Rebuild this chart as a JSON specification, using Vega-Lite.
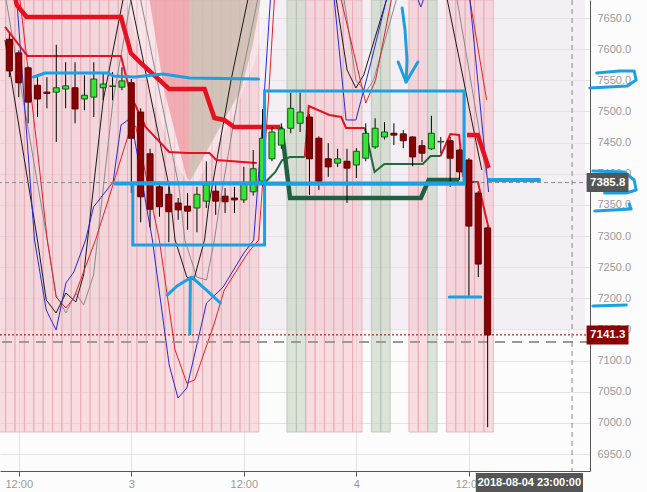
{
"$schema":"https://vega.github.io/schema/vega-lite/v6.json",
"width":590,"height":471,
"autosize":{"type":"none"},
"padding":{"left":0,"top":0,"right":57,"bottom":21},
"background":"#fcfcfc",
"config":{"view":{"stroke":null},
 "axis":{"title":null,"domainColor":"#555","labelColor":"#999","labelFont":"Liberation Sans","labelFontSize":11,"gridColor":"#e3e3e3","gridWidth":1},
 "axisX":{"tickColor":"#555","tickSize":5,"labelPadding":2,"labelFlush":false,"labelOverlap":false},
 "axisY":{"ticks":false,"labelPadding":7,"labelOverlap":false}},
"datasets":{
"candles":[
{"h":11,"o":7616,"hi":7625,"lo":7555,"c":7565},{"h":12,"o":7594,"hi":7598,"lo":7523,"c":7546},{"h":13,"o":7570,"hi":7572,"lo":7481,"c":7515},{"h":14,"o":7542,"hi":7555,"lo":7491,"c":7520},{"h":15,"o":7531,"hi":7555,"lo":7505,"c":7529},{"h":16,"o":7531,"hi":7607,"lo":7451,"c":7538},{"h":17,"o":7536,"hi":7579,"lo":7505,"c":7541},{"h":18,"o":7538,"hi":7579,"lo":7481,"c":7504},{"h":19,"o":7520,"hi":7558,"lo":7502,"c":7526},{"h":20,"o":7523,"hi":7579,"lo":7491,"c":7552},{"h":21,"o":7538,"hi":7562,"lo":7518,"c":7544},{"h":22,"o":7540,"hi":7563,"lo":7518,"c":7541},{"h":23,"o":7539,"hi":7571,"lo":7534,"c":7549},{"h":24,"o":7546,"hi":7552,"lo":7369,"c":7457},{"h":25,"o":7499,"hi":7505,"lo":7322,"c":7363},{"h":26,"o":7432,"hi":7440,"lo":7314,"c":7343},{"h":27,"o":7379,"hi":7387,"lo":7331,"c":7347},{"h":28,"o":7367,"hi":7379,"lo":7290,"c":7339},{"h":29,"o":7353,"hi":7361,"lo":7326,"c":7342},{"h":30,"o":7348,"hi":7369,"lo":7310,"c":7340},{"h":31,"o":7345,"hi":7379,"lo":7306,"c":7367},{"h":32,"o":7356,"hi":7420,"lo":7345,"c":7382},{"h":33,"o":7372,"hi":7382,"lo":7334,"c":7356},{"h":34,"o":7364,"hi":7377,"lo":7337,"c":7355},{"h":35,"o":7361,"hi":7379,"lo":7337,"c":7358},{"h":36,"o":7358,"hi":7411,"lo":7353,"c":7384},{"h":37,"o":7371,"hi":7438,"lo":7365,"c":7408},{"h":38,"o":7388,"hi":7504,"lo":7380,"c":7457},{"h":39,"o":7424,"hi":7475,"lo":7420,"c":7467},{"h":40,"o":7446,"hi":7481,"lo":7440,"c":7472},{"h":41,"o":7473,"hi":7530,"lo":7465,"c":7505},{"h":42,"o":7481,"hi":7530,"lo":7467,"c":7499},{"h":43,"o":7491,"hi":7496,"lo":7366,"c":7424},{"h":44,"o":7457,"hi":7460,"lo":7374,"c":7388},{"h":45,"o":7424,"hi":7449,"lo":7395,"c":7411},{"h":46,"o":7417,"hi":7440,"lo":7411,"c":7424},{"h":47,"o":7420,"hi":7440,"lo":7353,"c":7409},{"h":48,"o":7414,"hi":7441,"lo":7393,"c":7436},{"h":49,"o":7425,"hi":7481,"lo":7420,"c":7465},{"h":50,"o":7443,"hi":7489,"lo":7440,"c":7473},{"h":51,"o":7459,"hi":7483,"lo":7455,"c":7467},{"h":52,"o":7465,"hi":7481,"lo":7446,"c":7462},{"h":53,"o":7464,"hi":7470,"lo":7441,"c":7453},{"h":54,"o":7459,"hi":7460,"lo":7412,"c":7427},{"h":55,"o":7445,"hi":7454,"lo":7419,"c":7433},{"h":56,"o":7440,"hi":7493,"lo":7438,"c":7465},{"h":57,"o":7451,"hi":7459,"lo":7433,"c":7452},{"h":58,"o":7453,"hi":7459,"lo":7379,"c":7425},{"h":59,"o":7438,"hi":7440,"lo":7390,"c":7403},{"h":60,"o":7422,"hi":7425,"lo":7204,"c":7316},{"h":61,"o":7369,"hi":7372,"lo":7234,"c":7255},{"h":62,"o":7313,"hi":7315,"lo":6993,"c":7141.3}],
"bands":[
{"a":9.6,"b":10.6,"t":"p"},{"a":10.6,"b":11.6,"t":"p"},{"a":11.6,"b":12.6,"t":"p"},{"a":12.6,"b":13.6,"t":"p"},{"a":13.6,"b":14.6,"t":"p"},{"a":14.6,"b":15.6,"t":"p"},{"a":15.6,"b":16.6,"t":"p"},{"a":16.6,"b":17.6,"t":"p"},{"a":17.6,"b":18.6,"t":"p"},{"a":18.6,"b":19.6,"t":"p"},{"a":19.6,"b":20.6,"t":"p"},{"a":20.6,"b":21.6,"t":"p"},{"a":21.6,"b":22.6,"t":"p"},{"a":22.6,"b":23.6,"t":"p"},{"a":23.6,"b":24.6,"t":"p"},{"a":24.6,"b":25.6,"t":"p"},{"a":25.6,"b":26.6,"t":"p"},{"a":26.6,"b":27.6,"t":"p"},{"a":27.6,"b":28.6,"t":"p"},{"a":28.6,"b":29.6,"t":"p"},{"a":29.6,"b":30.6,"t":"p"},{"a":30.6,"b":31.6,"t":"p"},{"a":31.6,"b":32.6,"t":"p"},{"a":32.6,"b":33.6,"t":"p"},{"a":33.6,"b":34.6,"t":"p"},{"a":34.6,"b":35.6,"t":"p"},{"a":35.6,"b":36.6,"t":"p"},{"a":36.6,"b":37.6,"t":"p"},
{"a":40.6,"b":41.6,"t":"g"},{"a":41.6,"b":42.6,"t":"g"},
{"a":42.6,"b":43.6,"t":"p"},{"a":43.6,"b":44.6,"t":"p"},{"a":44.6,"b":45.6,"t":"p"},{"a":45.6,"b":46.6,"t":"p"},{"a":46.6,"b":47.6,"t":"p"},{"a":47.6,"b":48.6,"t":"p"},
{"a":49.6,"b":50.6,"t":"g"},{"a":50.6,"b":51.6,"t":"g"},
{"a":53.6,"b":54.6,"t":"p"},{"a":54.6,"b":55.6,"t":"p"},
{"a":55.6,"b":56.6,"t":"g"},
{"a":57.6,"b":58.6,"t":"p"},{"a":58.6,"b":59.6,"t":"p"},{"a":59.6,"b":60.6,"t":"p"},{"a":60.6,"b":61.6,"t":"p"},{"a":61.6,"b":62.6,"t":"p"}],
"areas":[
{"s":"outer","h":23.43,"v":7678.9},{"s":"outer","h":26.25,"v":7518.4},{"s":"outer","h":28.88,"v":7414.0},{"s":"outer","h":30.03,"v":7385.1},{"s":"outer","h":31.08,"v":7386.7},{"s":"outer","h":34.64,"v":7486.3},{"s":"outer","h":37.26,"v":7582.6},{"s":"outer","h":38.83,"v":7678.9},
{"s":"salmon","h":25.94,"v":7678.9},{"s":"salmon","h":27.51,"v":7534.4},{"s":"salmon","h":29.92,"v":7393.1},{"s":"salmon","h":30.24,"v":7388.3},
{"s":"brown","h":30.24,"v":7388.3},{"s":"brown","h":30.45,"v":7393.1},{"s":"brown","h":35.69,"v":7534.4},{"s":"brown","h":36.95,"v":7606.7},{"s":"brown","h":37.79,"v":7678.9}],
"L":[
{"s":"eg","k":0,"h":10.2,"v":7720},{"s":"eg","k":1,"h":11.37,"v":7614.7},{"s":"eg","k":2,"h":15.04,"v":7293.6},{"s":"eg","k":3,"h":15.98,"v":7205.3},{"s":"eg","k":4,"h":17.03,"v":7176.4},{"s":"eg","k":5,"h":18.08,"v":7208.5},{"s":"eg","k":6,"h":18.92,"v":7189.3},{"s":"eg","k":7,"h":19.97,"v":7237.4},{"s":"eg","k":8,"h":22.06,"v":7518.4},{"s":"eg","k":9,"h":23.95,"v":7678.9},{"s":"eg","k":10,"h":24.47,"v":7743.1},{"s":"eg","k":11,"h":25.0,"v":7678.9},{"s":"eg","k":12,"h":29.09,"v":7378.7},{"s":"eg","k":13,"h":29.71,"v":7293.6},{"s":"eg","k":14,"h":30.97,"v":7234.2},{"s":"eg","k":15,"h":32.02,"v":7229.4},{"s":"eg","k":16,"h":32.86,"v":7293.6},{"s":"eg","k":17,"h":33.38,"v":7346.6},{"s":"eg","k":18,"h":35.69,"v":7550.5},{"s":"eg","k":19,"h":37.47,"v":7678.9},{"s":"eg","k":20,"h":41.98,"v":7999.7},{"s":"eg","k":21,"h":46.7,"v":7678.9},{"s":"eg","k":22,"h":47.95,"v":7550.5},{"s":"eg","k":23,"h":49.0,"v":7531.2},{"s":"eg","k":24,"h":49.84,"v":7550.5},{"s":"eg","k":25,"h":52.25,"v":7678.9},{"s":"eg","k":26,"h":55.6,"v":7999.7},{"s":"eg","k":27,"h":58.75,"v":7678.9},{"s":"eg","k":28,"h":61.89,"v":7398.0},
{"s":"ek","k":1,"h":10.53,"v":7614.7},{"s":"ek","k":2,"h":13.99,"v":7293.6},{"s":"ek","k":3,"h":14.93,"v":7197.3},{"s":"ek","k":4,"h":15.98,"v":7176.4},{"s":"ek","k":5,"h":17.03,"v":7208.5},{"s":"ek","k":6,"h":18.08,"v":7194.1},{"s":"ek","k":7,"h":18.92,"v":7237.4},{"s":"ek","k":8,"h":21.01,"v":7518.4},{"s":"ek","k":9,"h":23.11,"v":7678.9},{"s":"ek","k":10,"h":23.53,"v":7743.1},{"s":"ek","k":11,"h":23.95,"v":7678.9},{"s":"ek","k":12,"h":28.04,"v":7378.7},{"s":"ek","k":13,"h":28.67,"v":7293.6},{"s":"ek","k":14,"h":29.92,"v":7234.2},{"s":"ek","k":15,"h":30.66,"v":7229.4},{"s":"ek","k":16,"h":31.81,"v":7293.6},{"s":"ek","k":17,"h":32.23,"v":7346.6},{"s":"ek","k":18,"h":34.64,"v":7550.5},{"s":"ek","k":19,"h":36.42,"v":7678.9},{"s":"ek","k":20,"h":40.93,"v":7999.7},{"s":"ek","k":21,"h":45.86,"v":7678.9},{"s":"ek","k":22,"h":47.01,"v":7566.5},{"s":"ek","k":23,"h":47.95,"v":7537.6},{"s":"ek","k":24,"h":48.79,"v":7558.5},{"s":"ek","k":25,"h":51.2,"v":7678.9},{"s":"ek","k":26,"h":54.56,"v":7999.7},{"s":"ek","k":27,"h":57.7,"v":7678.9},{"s":"ek","k":28,"h":61.37,"v":7406.0},
{"s":"er","k":1,"h":11.5,"v":7760},{"s":"er","k":2,"h":13.99,"v":7438.1},{"s":"er","k":3,"h":15.04,"v":7293.6},{"s":"er","k":4,"h":15.98,"v":7202.1},{"s":"er","k":5,"h":17.03,"v":7184.4},{"s":"er","k":6,"h":17.87,"v":7200.5},{"s":"er","k":7,"h":20.18,"v":7293.6},{"s":"er","k":8,"h":21.54,"v":7357.8},{"s":"er","k":9,"h":23.84,"v":7470.2},{"s":"er","k":10,"h":24.47,"v":7476.6},{"s":"er","k":11,"h":26.99,"v":7293.6},{"s":"er","k":12,"h":28.67,"v":7117.0},{"s":"er","k":13,"h":29.92,"v":7064.0},{"s":"er","k":14,"h":30.76,"v":7068.8},{"s":"er","k":15,"h":32.86,"v":7160.4},{"s":"er","k":16,"h":33.91,"v":7213.3},{"s":"er","k":17,"h":36.42,"v":7272.7},{"s":"er","k":18,"h":37.58,"v":7293.6},{"s":"er","k":19,"h":38.62,"v":7518.4},{"s":"er","k":20,"h":39.25,"v":7678.9},{"s":"er","k":21,"h":42.5,"v":7919.7},{"s":"er","k":22,"h":46.38,"v":7678.9},{"s":"er","k":23,"h":49.0,"v":7513.5},{"s":"er","k":24,"h":50.05,"v":7550.5},{"s":"er","k":25,"h":51.73,"v":7678.9},{"s":"er","k":26,"h":55.6,"v":7919.7},{"s":"er","k":27,"h":60.11,"v":7678.9},{"s":"er","k":28,"h":61.89,"v":7518.4},
{"s":"eb","k":1,"h":11.06,"v":7775.2},{"s":"eb","k":2,"h":11.79,"v":7678.9},{"s":"eb","k":3,"h":13.68,"v":7293.6},{"s":"eb","k":4,"h":14.93,"v":7181.2},{"s":"eb","k":5,"h":15.98,"v":7149.1},{"s":"eb","k":6,"h":17.03,"v":7224.6},{"s":"eb","k":7,"h":17.87,"v":7242.2},{"s":"eb","k":8,"h":19.13,"v":7293.6},{"s":"eb","k":9,"h":19.97,"v":7346.6},{"s":"eb","k":10,"h":22.06,"v":7386.7},{"s":"eb","k":11,"h":22.9,"v":7478.2},{"s":"eb","k":12,"h":23.95,"v":7489.5},{"s":"eb","k":13,"h":26.25,"v":7293.6},{"s":"eb","k":14,"h":28.04,"v":7092.9},{"s":"eb","k":15,"h":28.98,"v":7039.9},{"s":"eb","k":16,"h":29.92,"v":7056.0},{"s":"eb","k":17,"h":32.02,"v":7192.4},{"s":"eb","k":18,"h":33.8,"v":7218.2},{"s":"eb","k":19,"h":36.0,"v":7272.7},{"s":"eb","k":20,"h":37.05,"v":7293.6},{"s":"eb","k":21,"h":38.0,"v":7486.3},{"s":"eb","k":22,"h":38.83,"v":7678.9},{"s":"eb","k":23,"h":41.98,"v":7919.7},{"s":"eb","k":24,"h":45.65,"v":7678.9},{"s":"eb","k":25,"h":46.9,"v":7486.3},{"s":"eb","k":26,"h":47.95,"v":7486.3},{"s":"eb","k":27,"h":49.54,"v":7577.8},{"s":"eb","k":28,"h":51.2,"v":7678.9},{"s":"eb","k":29,"h":52.98,"v":7743.1},{"s":"eb","k":30,"h":54.87,"v":7667.7},{"s":"eb","k":31,"h":56.65,"v":7743.1},{"s":"eb","k":32,"h":60.11,"v":7678.9},{"s":"eb","k":33,"h":62.1,"v":7370.7},
{"s":"tr1","k":1,"h":10.53,"v":7635.6},{"s":"tr1","k":2,"h":12.94,"v":7589.0},{"s":"tr1","k":3,"h":22.9,"v":7589.0},{"s":"tr1","k":4,"h":23.53,"v":7550.5},{"s":"tr1","k":5,"h":24.16,"v":7518.4},{"s":"tr1","k":6,"h":25.52,"v":7475.0},{"s":"tr1","k":7,"h":28.04,"v":7434.9},{"s":"tr1","k":8,"h":29.92,"v":7433.3},{"s":"tr1","k":9,"h":32.33,"v":7433.3},{"s":"tr1","k":10,"h":33.07,"v":7422.0},{"s":"tr1","k":11,"h":37.37,"v":7417.2},
{"s":"tg1","k":1,"h":38.21,"v":7385.1},{"s":"tg1","k":2,"h":39.36,"v":7402.8},{"s":"tg1","k":3,"h":40.09,"v":7422.0},{"s":"tg1","k":4,"h":40.93,"v":7426.9},{"s":"tg1","k":5,"h":42.5,"v":7426.9},
{"s":"tr2","k":1,"h":42.5,"v":7426.9},{"s":"tr2","k":2,"h":42.92,"v":7508.7},{"s":"tr2","k":3,"h":45.12,"v":7494.3},{"s":"tr2","k":4,"h":46.38,"v":7491.1},{"s":"tr2","k":5,"h":46.9,"v":7473.4},{"s":"tr2","k":6,"h":48.9,"v":7473.4},
{"s":"tg2","k":1,"h":48.9,"v":7473.4},{"s":"tg2","k":2,"h":49.94,"v":7402.8},{"s":"tg2","k":3,"h":50.99,"v":7415.6},{"s":"tg2","k":4,"h":55.08,"v":7415.6},{"s":"tg2","k":5,"h":55.92,"v":7428.4},{"s":"tg2","k":6,"h":56.97,"v":7428.4},
{"s":"tr3","k":1,"h":56.97,"v":7428.4},{"s":"tr3","k":2,"h":58.02,"v":7463.8},{"s":"tr3","k":3,"h":58.96,"v":7462.2},{"s":"tr3","k":4,"h":59.38,"v":7394.8},
{"s":"tr4","k":1,"h":59.8,"v":7386.7},{"s":"tr4","k":2,"h":60.95,"v":7386.7},{"s":"tr4","k":3,"h":62.1,"v":7312.9},
{"s":"TR1","k":1,"h":11.6,"v":7685},{"s":"TR1","k":2,"h":11.79,"v":7670.9},{"s":"TR1","k":3,"h":12.84,"v":7651.6},{"s":"TR1","k":4,"h":22.9,"v":7651.6},{"s":"TR1","k":5,"h":23.95,"v":7593.8},{"s":"TR1","k":6,"h":25.0,"v":7577.8},{"s":"TR1","k":7,"h":28.04,"v":7536.0},{"s":"TR1","k":8,"h":31.81,"v":7536.0},{"s":"TR1","k":9,"h":32.86,"v":7489.5},{"s":"TR1","k":10,"h":33.91,"v":7486.3},{"s":"TR1","k":11,"h":34.96,"v":7475.0},{"s":"TR1","k":12,"h":39.88,"v":7475.0},
{"s":"TR2","k":1,"h":59.8,"v":7462.2},{"s":"TR2","k":2,"h":60.95,"v":7462.2},{"s":"TR2","k":3,"h":62.1,"v":7409.2},
{"s":"TG","k":1,"h":39.88,"v":7475.0},{"s":"TG","k":2,"h":40.09,"v":7465.4},{"s":"TG","k":3,"h":40.93,"v":7361.0},{"s":"TG","k":4,"h":54.87,"v":7361.0},{"s":"TG","k":5,"h":55.71,"v":7389.9},{"s":"TG","k":6,"h":58.96,"v":7389.9}],
"anno":[
{"s":"b1","k":1,"h":13.57,"v":7555.3},{"s":"b1","k":2,"h":14.83,"v":7561.7},{"s":"b1","k":3,"h":21.54,"v":7561.7},{"s":"b1","k":4,"h":22.06,"v":7556.9},{"s":"b1","k":5,"h":24.37,"v":7555.3},{"s":"b1","k":6,"h":27.41,"v":7560.1},{"s":"b1","k":7,"h":30.24,"v":7553.7},{"s":"b1","k":8,"h":37.58,"v":7552.1},
{"s":"b6","k":1,"h":57.91,"v":7202.1},{"s":"b6","k":2,"h":61.27,"v":7202.1},
{"s":"b7a","k":1,"h":30.24,"v":7142.7},{"s":"b7a","k":2,"h":30.3,"v":7232.6},
{"s":"b7b","k":1,"h":27.83,"v":7205.3},{"s":"b7b","k":2,"h":28.88,"v":7219.8},{"s":"b7b","k":3,"h":30.45,"v":7234.2},{"s":"b7b","k":4,"h":32.02,"v":7213.3},{"s":"b7b","k":5,"h":33.49,"v":7192.5},
{"s":"b8a","k":1,"h":52.88,"v":7666.1},{"s":"b8a","k":2,"h":53.19,"v":7630.7},{"s":"b8a","k":3,"h":53.4,"v":7582.6},{"s":"b8a","k":4,"h":53.3,"v":7547.3},
{"s":"b8b","k":1,"h":52.46,"v":7579.4},{"s":"b8b","k":2,"h":53.3,"v":7547.3},{"s":"b8b","k":3,"h":54.56,"v":7579.4},
{"s":"r1","k":1,"h":73.63,"v":7561.7},{"s":"r1","k":2,"h":76.04,"v":7564.9},{"s":"r1","k":3,"h":77.62,"v":7564.9},{"s":"r1","k":4,"h":77.83,"v":7550.5},{"s":"r1","k":5,"h":76.88,"v":7540.8},{"s":"r1","k":6,"h":72.9,"v":7537.6},
{"s":"r2","k":1,"h":73.22,"v":7404.4},{"s":"r2","k":2,"h":76.57,"v":7402.8},{"s":"r2","k":3,"h":77.62,"v":7389.9},{"s":"r2","k":4,"h":77.83,"v":7373.9},{"s":"r2","k":5,"h":76.78,"v":7369.1},{"s":"r2","k":6,"h":74.47,"v":7369.1},
{"s":"r3","k":1,"h":73.42,"v":7340.2},{"s":"r3","k":2,"h":77.3,"v":7343.4},{"s":"r3","k":3,"h":77.09,"v":7351.4},
{"s":"r4","k":1,"h":73.22,"v":7187.6},{"s":"r4","k":2,"h":76.78,"v":7189.2}],
"annoThick":[
{"s":"b4","k":1,"h":22.17,"v":7384.5},{"s":"b4","k":2,"h":59.48,"v":7384.5},
{"s":"b5","k":1,"h":61.99,"v":7389.9},{"s":"b5","k":2,"h":67.66,"v":7389.9}],
"boxes":[{"x1":24.16,"x2":38.21,"y1":7285.6,"y2":7385.1},{"x1":38.21,"x2":59.48,"y1":7383.5,"y2":7532.8}]
},
"layer":[
{"data":{"values":[{}]},"mark":{"type":"rect","fill":"#e8e0ee","opacity":0.45},
 "encoding":{
  "x":{"datum":10.532,"type":"quantitative","scale":{"domain":[10.532,72.38],"nice":false,"zero":false},
       "axis":{"values":[12,24,36,48,60],"tickCount":20,"labelExpr":"datum.value==24?'3':datum.value==48?'4':'12:00'","grid":true,"title":null,"labelOverlap":false}},
  "x2":{"datum":72.38},
  "y":{"datum":7150.7,"type":"quantitative","scale":{"domain":[6922.8,7678.9],"nice":false,"zero":false},
       "axis":{"orient":"right","values":[6950,7000,7050,7100,7150,7200,7250,7300,7350,7400,7450,7500,7550,7600,7650],"tickCount":30,"format":".1f","grid":true,"title":null,"labelOverlap":false,"ticks":false,"labelPadding":7}},
  "y2":{"datum":7678.9}}},
{"data":{"name":"bands"},"mark":{"type":"rect","fillOpacity":0.45,"strokeWidth":0.8},
 "encoding":{"x":{"field":"a","type":"quantitative","title":null},"x2":{"field":"b"},
  "y":{"datum":6985.4,"type":"quantitative"},"y2":{"datum":7678.9},
  "fill":{"condition":{"test":"datum.t=='g'","value":"#b6c7b0"},"value":"#f4b6bf"},
  "stroke":{"condition":{"test":"datum.t=='g'","value":"#b3c1ad"},"value":"#eaa9b3"}}},
{"data":{"name":"areas"},"transform":[{"filter":"datum.s=='outer'"}],"mark":{"type":"area","color":"#ffffff","opacity":0.35},
 "encoding":{"x":{"field":"h","type":"quantitative","title":null},"y":{"field":"v","type":"quantitative","title":null},"y2":{"datum":7678.9}}},
{"data":{"name":"areas"},"transform":[{"filter":"datum.s=='salmon'"}],"mark":{"type":"area","color":"#ee9aa0","opacity":0.75},
 "encoding":{"x":{"field":"h","type":"quantitative"},"y":{"field":"v","type":"quantitative"},"y2":{"datum":7678.9}}},
{"data":{"name":"areas"},"transform":[{"filter":"datum.s=='brown'"}],"mark":{"type":"area","color":"#c8b9aa","opacity":0.8},
 "encoding":{"x":{"field":"h","type":"quantitative"},"y":{"field":"v","type":"quantitative"},"y2":{"datum":7678.9}}},
{"data":{"name":"L"},"transform":[{"filter":"datum.s=='eg'"}],"mark":{"type":"line","color":"#8a8a8a","strokeWidth":1,"clip":true},
 "encoding":{"x":{"field":"h","type":"quantitative"},"y":{"field":"v","type":"quantitative"},"order":{"field":"k","type":"quantitative"}}},
{"data":{"name":"L"},"transform":[{"filter":"datum.s=='ek'"}],"mark":{"type":"line","color":"#1a1a1a","strokeWidth":1,"clip":true},
 "encoding":{"x":{"field":"h","type":"quantitative"},"y":{"field":"v","type":"quantitative"},"order":{"field":"k","type":"quantitative"}}},
{"data":{"name":"L"},"transform":[{"filter":"datum.s=='er'"}],"mark":{"type":"line","color":"#e3202a","strokeWidth":1,"clip":true},
 "encoding":{"x":{"field":"h","type":"quantitative"},"y":{"field":"v","type":"quantitative"},"order":{"field":"k","type":"quantitative"}}},
{"data":{"name":"L"},"transform":[{"filter":"datum.s=='eb'"}],"mark":{"type":"line","color":"#2a2ad0","strokeWidth":1,"clip":true},
 "encoding":{"x":{"field":"h","type":"quantitative"},"y":{"field":"v","type":"quantitative"},"order":{"field":"k","type":"quantitative"}}},
{"data":{"name":"L"},"transform":[{"filter":"indexof(['tr1','tr2','tr3','tr4'], datum.s) >= 0"}],"mark":{"type":"line","color":"#e8101e","strokeWidth":2,"clip":true},
 "encoding":{"x":{"field":"h","type":"quantitative"},"y":{"field":"v","type":"quantitative"},"detail":{"field":"s"},"order":{"field":"k","type":"quantitative"}}},
{"data":{"name":"L"},"transform":[{"filter":"indexof(['tg1','tg2'], datum.s) >= 0"}],"mark":{"type":"line","color":"#1f6b3a","strokeWidth":2,"clip":true},
 "encoding":{"x":{"field":"h","type":"quantitative"},"y":{"field":"v","type":"quantitative"},"detail":{"field":"s"},"order":{"field":"k","type":"quantitative"}}},
{"data":{"name":"L"},"transform":[{"filter":"indexof(['TR1','TR2'], datum.s) >= 0"}],"mark":{"type":"line","color":"#e8101e","strokeWidth":4.5,"clip":true},
 "encoding":{"x":{"field":"h","type":"quantitative"},"y":{"field":"v","type":"quantitative"},"detail":{"field":"s"},"order":{"field":"k","type":"quantitative"}}},
{"data":{"name":"L"},"transform":[{"filter":"datum.s=='TG'"}],"mark":{"type":"line","color":"#1f6040","strokeWidth":4.5,"clip":true},
 "encoding":{"x":{"field":"h","type":"quantitative"},"y":{"field":"v","type":"quantitative"},"order":{"field":"k","type":"quantitative"}}},
{"data":{"values":[{}]},"mark":{"type":"rule","color":"#9a9a9a","strokeWidth":2,"strokeDash":[10,7]},"encoding":{"y":{"datum":7130,"type":"quantitative"}}},
{"data":{"values":[{}]},"mark":{"type":"rule","color":"#888888","strokeWidth":1,"strokeDash":[4,3]},"encoding":{"y":{"datum":7385.8,"type":"quantitative"}}},
{"data":{"values":[{}]},"mark":{"type":"rule","color":"#8b0000","strokeWidth":1,"strokeDash":[2,2]},"encoding":{"y":{"datum":7141.3,"type":"quantitative"}}},
{"data":{"values":[{}]},"mark":{"type":"rule","color":"#888888","strokeWidth":1,"strokeDash":[5,4]},"encoding":{"x":{"datum":71,"type":"quantitative"}}},
{"data":{"name":"candles"},"mark":{"type":"rule","color":"#000000","strokeWidth":1},
 "encoding":{"x":{"field":"h","type":"quantitative"},"y":{"field":"lo","type":"quantitative"},"y2":{"field":"hi"}}},
{"data":{"name":"candles"},"mark":{"type":"bar","size":6,"strokeWidth":1},
 "encoding":{"x":{"field":"h","type":"quantitative"},"y":{"field":"o","type":"quantitative"},"y2":{"field":"c"},
  "fill":{"condition":{"test":"datum.c < datum.o","value":"#8b0000"},"value":"#33e633"},
  "stroke":{"condition":{"test":"datum.c < datum.o","value":"#5e0000"},"value":"#185418"}}},
{"data":{"name":"boxes"},"mark":{"type":"rect","fill":null,"fillOpacity":0,"stroke":"#1ba1e2","strokeWidth":3},
 "encoding":{"x":{"field":"x1","type":"quantitative"},"x2":{"field":"x2"},"y":{"field":"y1","type":"quantitative"},"y2":{"field":"y2"}}},
{"data":{"name":"anno"},"mark":{"type":"line","color":"#1ba1e2","strokeWidth":3,"strokeCap":"round","strokeJoin":"round","clip":false},
 "encoding":{"x":{"field":"h","type":"quantitative"},"y":{"field":"v","type":"quantitative"},"detail":{"field":"s"},"order":{"field":"k","type":"quantitative"}}},
{"data":{"name":"annoThick"},"mark":{"type":"line","color":"#1ba1e2","strokeWidth":4,"clip":false},
 "encoding":{"x":{"field":"h","type":"quantitative"},"y":{"field":"v","type":"quantitative"},"detail":{"field":"s"},"order":{"field":"k","type":"quantitative"}}},
{"data":{"values":[{"p":7385.8,"k":"cur"},{"p":7141.3,"k":"last"}]},"mark":{"type":"rect","yOffset":-9.5,"y2Offset":9.5},
 "encoding":{"x":{"datum":72.55,"type":"quantitative"},"x2":{"datum":77.02},"y":{"field":"p","type":"quantitative"},"y2":{"field":"p"},
  "fill":{"condition":{"test":"datum.k=='cur'","value":"#555555"},"value":"#8b0000"}}},
{"data":{"values":[{"p":7385.8},{"p":7141.3}]},"mark":{"type":"text","color":"#ffffff","font":"Liberation Sans","fontSize":11.5,"fontWeight":"bold","align":"center","baseline":"middle"},
 "encoding":{"x":{"datum":74.8,"type":"quantitative"},"y":{"field":"p","type":"quantitative"},"text":{"field":"p","type":"quantitative","format":".1f"}}},
{"data":{"values":[{"t":"2018-08-04 23:00:00"}]},"mark":{"type":"rect","fill":"#555555"},
 "encoding":{"x":{"datum":60.74,"type":"quantitative"},"x2":{"datum":72.17},"y":{"datum":6919.5,"type":"quantitative"},"y2":{"datum":6889.0}}},
{"data":{"values":[{"t":"2018-08-04 23:00:00"}]},"mark":{"type":"text","color":"#ffffff","font":"Liberation Sans","fontSize":11,"fontWeight":"bold","align":"center","baseline":"middle"},
 "encoding":{"x":{"datum":66.45,"type":"quantitative"},"y":{"datum":6904.3,"type":"quantitative"},"text":{"field":"t"}}}
]
}
